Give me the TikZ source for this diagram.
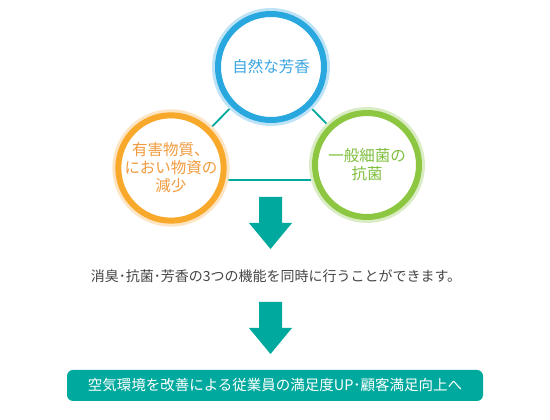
\documentclass[tikz,border=0pt]{standalone}
\usepackage{fontspec}
\newfontfamily\jpfont{Noto Sans CJK JP}
\usetikzlibrary{backgrounds}
\definecolor{skyblue}{HTML}{29A8E0}
\definecolor{skyhalo}{HTML}{BEE3F6}
\definecolor{skytext}{HTML}{3AA6E2}
\definecolor{amber}{HTML}{F8A92C}
\definecolor{amberhalo}{HTML}{FDE4C2}
\definecolor{ambertext}{HTML}{F29B3E}
\definecolor{leaf}{HTML}{8DC640}
\definecolor{leafhalo}{HTML}{DAECC4}
\definecolor{leaftext}{HTML}{7EBF3E}
\definecolor{teal}{HTML}{00A99D}
\definecolor{inktext}{HTML}{444444}
\tikzset{
  ring/.style 2 args={circle,fill=white,draw=#1,line width=6pt,
    preaction={draw=#2,line width=12pt},inner sep=0pt,outer sep=0pt,
    align=center,font=\jpfont\fontsize{15.5}{18}\selectfont},
  link/.style={draw=teal,line width=1.8pt}
}
\newcommand\blockarrow[2]{% x, top y
  \fill[teal] (#1-11.5,#2) -- (#1+11.5,#2) -- (#1+11.5,#2-26) -- (#1+21.5,#2-26)
    -- (#1,#2-52) -- (#1-21.5,#2-26) -- (#1-11.5,#2-26) -- cycle;}
\begin{document}
\begin{tikzpicture}[x=1pt,y=1pt]
  \useasboundingbox (0,0) rectangle (550,420);
  % three circles
  \node[ring={skyblue}{skyhalo},minimum size=106pt,text=skytext] (aroma) at (271,353) {自然な芳香};
  \node[ring={amber}{amberhalo},minimum size=100pt,text=ambertext] (odor) at (171,252) {有害物質、\\におい物資の\\減少};
  \node[ring={leaf}{leafhalo},minimum size=104pt,text=leaftext] (germ) at (367,255) {一般細菌の\\抗菌};
  \begin{scope}[on background layer]
    \coordinate (base) at (0,240);
    \draw[link] (aroma.center) -- (odor.center);
    \draw[link] (aroma.center) -- (germ.center);
    \draw[link] (odor |- base) -- (germ |- base);
  \end{scope}
  % result
  \blockarrow{270.5}{223}
  \node[font=\jpfont\fontsize{14}{16}\selectfont,text=inktext] (effect) at (276,144)
    {消臭･抗菌･芳香の3つの機能を同時に行うことができます。};
  \blockarrow{270.5}{118}
  \node[fill=teal,rounded corners=6pt,minimum width=416pt,minimum height=31pt,
    text=white,font=\jpfont\fontsize{14.5}{17}\selectfont] (goal) at (275,34.5)
    {空気環境を改善による従業員の満足度UP･顧客満足向上へ};
\end{tikzpicture}
\end{document}
